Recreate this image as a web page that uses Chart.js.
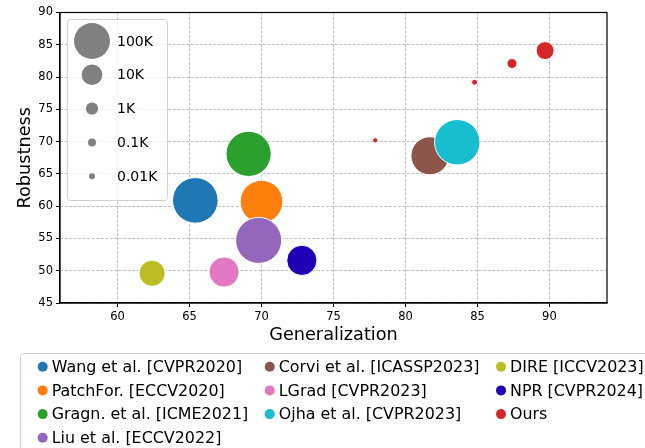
<!DOCTYPE html>
<html>
<head>
<meta charset="utf-8">
<script src="https://cdn.jsdelivr.net/npm/chart.js@4.4.0/dist/chart.umd.min.js"></script>
<style>
  html, body { margin: 0; padding: 0; background: #fff; }
  #wrap { width: 645px; height: 448px; }
</style>
</head>
<body>
<div id="wrap"><canvas id="myChart" width="645" height="448"></canvas></div>
<script>
const FONT = "'DejaVu Sans', sans-serif";

// compared methods (drawing order = legend order)
const methods = [
  'Wang et al. [CVPR2020]',
  'PatchFor. [ECCV2020]',
  'Gragn. et al. [ICME2021]',
  'Liu et al. [ECCV2022]',
  'Corvi et al. [ICASSP2023]',
  'LGrad [CVPR2023]',
  'Ojha et al. [CVPR2023]',
  'DIRE [ICCV2023]',
  'NPR [CVPR2024]'
];
const methodColors = ['#1f77b4', '#ff7f0e', '#2ca02c', '#9467bd', '#8c564b',
  '#e377c2', '#17becf', '#bcbd22', '#1e00b4'];
const generalization = [65.4, 70.0, 69.1, 69.8, 81.7, 67.4, 83.6, 62.4, 72.8];
const robustness = [60.9, 60.7, 68.1, 54.7, 67.8, 49.8, 69.9, 49.6, 51.6];
const modelSize = [264000, 202000, 255000, 275000, 127000, 49000, 261000, 27000, 49000];

// our method, several variants
const oursLabel = 'Ours';
const oursColor = '#d62728';
const oursGeneralization = [77.9, 84.8, 87.4, 89.7];
const oursRobustness = [70.2, 79.2, 82.1, 84.1];
const oursSize = [1, 9, 360, 5600];

// size legend
const sizeLevels = [100000, 10000, 1000, 100, 10];
const sizeLabels = ['100K', '10K', '1K', '0.1K', '0.01K'];

// axes
const xRange = [56, 94];
const yRange = [45, 90];
const tickStep = 5;

// bubble radius (px) from size
const bubbleRadius = (s) => Math.sqrt(Math.sqrt(s) + 6);

// big bubbles would otherwise push the plot area down
Chart.BubbleController.prototype.getMaxOverflow = () => 0;

const datasets = methods.map((name, i) => ({
  label: name,
  data: [{ x: generalization[i], y: robustness[i], r: bubbleRadius(modelSize[i]) }],
  backgroundColor: methodColors[i],
  borderColor: '#ffffff',
  borderWidth: 1,
  order: 20 - i
}));
datasets.push({
  label: oursLabel,
  data: oursGeneralization.map((g, j) => ({ x: g, y: oursRobustness[j], r: bubbleRadius(oursSize[j]) })),
  backgroundColor: oursColor,
  borderColor: '#ffffff',
  borderWidth: 1,
  order: 1
});

// frame, size legend and method legend
const decorations = {
  id: 'decorations',
  afterDraw(chart) {
    const { ctx, chartArea: a } = chart;
    ctx.save();

    // size legend inside the plot
    const bx = a.left + 7.5, by = a.top + 7, bw = 100, bh = 181;
    ctx.beginPath();
    ctx.roundRect(bx, by, bw, bh, 3);
    ctx.fillStyle = 'rgba(255,255,255,0.8)';
    ctx.fill();
    ctx.strokeStyle = '#d0d0d0';
    ctx.lineWidth = 1;
    ctx.stroke();
    ctx.font = `14px ${FONT}`;
    ctx.textBaseline = 'middle';
    sizeLevels.forEach((s, k) => {
      const cy = by + 21.5 + k * 33.8;
      ctx.beginPath();
      ctx.arc(bx + 24.5, cy, bubbleRadius(s), 0, Math.PI * 2);
      ctx.fillStyle = '#808080';
      ctx.fill();
      ctx.fillStyle = '#000';
      ctx.fillText(sizeLabels[k], bx + 49.5, cy + 1);
    });

    // frame
    ctx.strokeStyle = '#000';
    ctx.lineWidth = 1.2;
    ctx.strokeRect(a.left, a.top, a.right - a.left, a.bottom - a.top);

    // method legend below the plot: 3 columns, filled column by column
    const items = chart.data.datasets.map(d => ({ label: d.label, color: d.backgroundColor }));
    const ncol = 3;
    const base = Math.floor(items.length / ncol), extra = items.length % ncol;
    ctx.beginPath();
    ctx.roundRect(20.5, 353.5, 640, 140, 3);
    ctx.fillStyle = '#fff';
    ctx.fill();
    ctx.strokeStyle = '#d0d0d0';
    ctx.lineWidth = 1;
    ctx.stroke();
    ctx.font = `15.9px ${FONT}`;
    let colX = 42.7, idx = 0;
    for (let c = 0; c < ncol; c++) {
      const count = base + (c < extra ? 1 : 0);
      let maxW = 0;
      for (let r = 0; r < count; r++) {
        const it = items[idx++];
        const cy = 366.7 + r * 23.7;
        ctx.beginPath();
        ctx.arc(colX, cy, 5, 0, Math.PI * 2);
        ctx.fillStyle = it.color;
        ctx.fill();
        ctx.fillStyle = '#000';
        ctx.fillText(it.label, colX + 9, cy + 1);
        maxW = Math.max(maxW, ctx.measureText(it.label).width);
      }
      colX += 9 + maxW + 21.5;
    }
    ctx.restore();
  }
};

const axisCommon = {
  type: 'linear',
  ticks: { stepSize: tickStep, includeBounds: false, color: '#000', padding: 3, font: { family: FONT, size: 11.5 } },
  grid: {
    color: '#b0b0b0', lineWidth: 0.8, drawTicks: true, tickLength: 4,
    tickColor: '#000', tickWidth: 1, tickBorderDash: []
  },
  border: { display: true, color: '#000', width: 1.2, dash: [3, 1.5] }
};

const config = {
  type: 'bubble',
  data: { datasets: datasets },
  options: {
    responsive: false,
    animation: false,
    devicePixelRatio: 1,
    layout: { padding: { left: 0, right: 38, top: 12.5, bottom: 100 } },
    plugins: { legend: { display: false }, tooltip: { enabled: false } },
    scales: {
      x: {
        ...axisCommon,
        min: xRange[0], max: xRange[1],
        title: { display: true, text: 'Generalization', color: '#000', font: { family: FONT, size: 17.7 }, padding: { top: 0, bottom: 1.5 } },
        afterFit(scale) { scale.height = 45; }
      },
      y: {
        ...axisCommon,
        min: yRange[0], max: yRange[1],
        title: { display: true, text: 'Robustness', color: '#000', font: { family: FONT, size: 17.7 }, padding: { top: 14.4, bottom: 0 } },
        afterFit(scale) { scale.width = 60; }
      }
    }
  },
  plugins: [decorations]
};

const ctx = document.getElementById('myChart');
const myChart = new Chart(ctx, config);
</script>
</body>
</html>
